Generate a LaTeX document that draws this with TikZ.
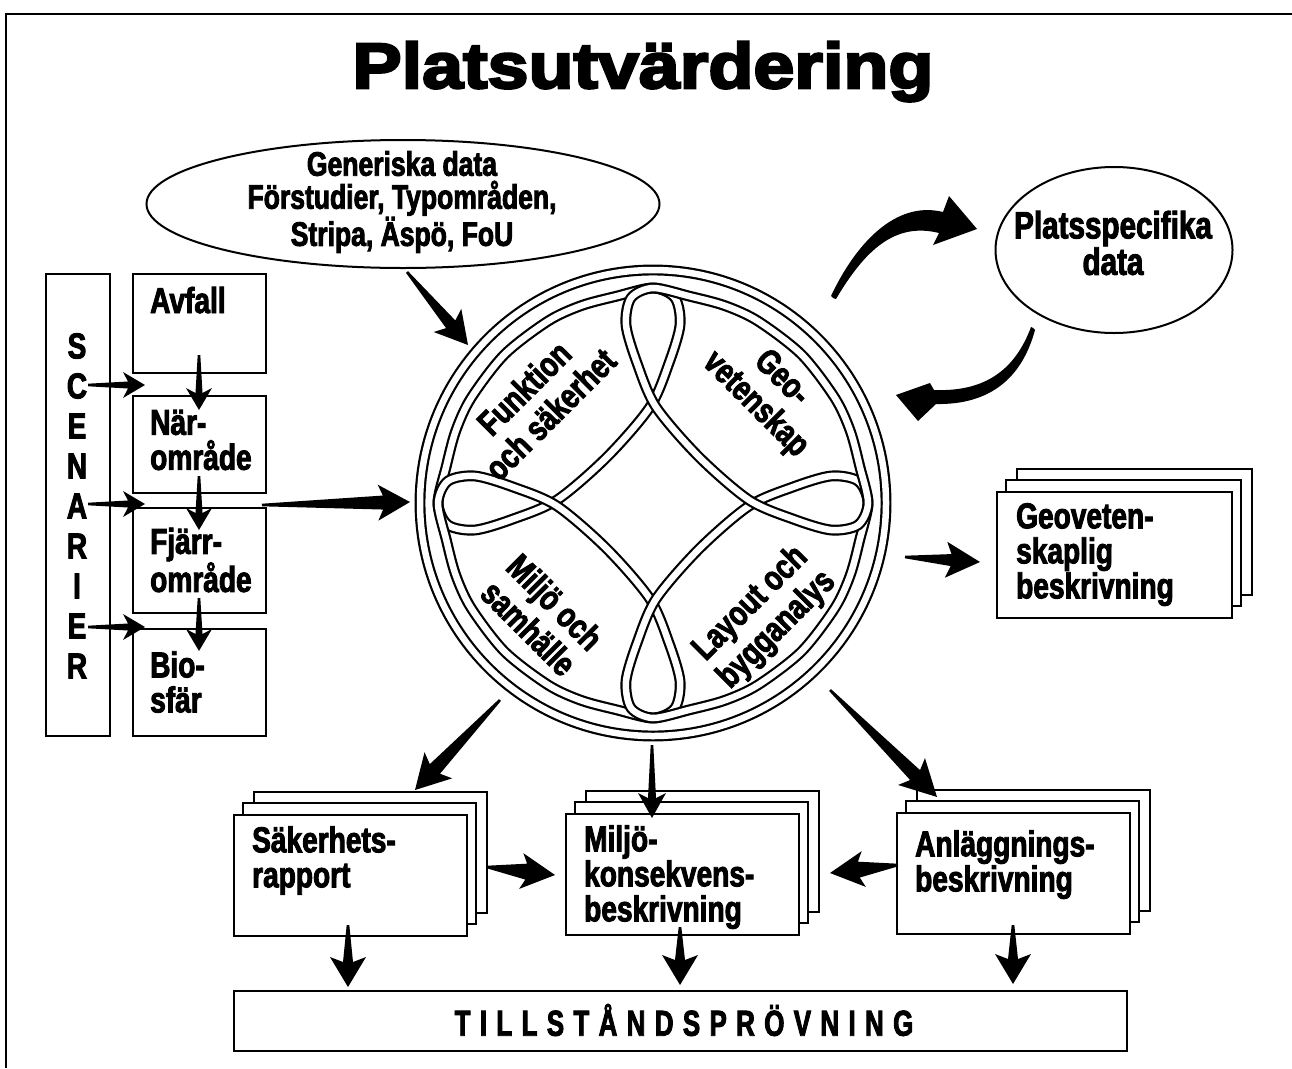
\documentclass[tikz,border=0pt]{standalone}
\usepackage{fontspec}
\usetikzlibrary{calc,shapes.geometric}
\newfontfamily\bodyfont[FakeStretch=0.78,FakeBold=2.5]{Liberation Sans Bold}
\newfontfamily\headfont[FakeStretch=1.15,FakeBold=4]{Liberation Sans Bold}
\newfontfamily\widefont[FakeStretch=0.72,FakeBold=2.5,LetterSpace=26]{Liberation Sans Bold}

\tikzset{
  frameline/.style={line width=2pt},
  box/.style={draw, fill=white, line width=2.4pt, rectangle, inner sep=0pt, anchor=north west},
  sheet/.style={draw, fill=white, line width=2.4pt},
  band/.style={draw, line width=2.2pt, double=white, double distance=6.5pt},
  oval/.style={draw, ellipse, line width=2pt, inner sep=0pt},
  txt/.style={font=\bodyfont\fontsize{36}{35}\selectfont, inner sep=0pt, align=left},
  ctxt/.style={font=\bodyfont\fontsize{35}{37}\selectfont, inner sep=0pt, align=center},
}

% tapered filled arrow: tail, tip, head length, head half width, body half width
\newcommand{\fatarrow}[5]{%
  \path ($(#2)!#3!(#1)$) coordinate (ab) ($(#2)!#3-5pt!(#1)$) coordinate (aj);
  \fill ($(#1)!1.3pt!90:(#2)$) -- ($(aj)!#5!90:(#2)$) -- ($(ab)!#4!90:(#2)$) -- (#2)
    -- ($(ab)!#4!-90:(#2)$) -- ($(aj)!#5!-90:(#2)$) -- ($(#1)!1.3pt!-90:(#2)$) -- cycle;}

% stack of three sheets; the front one is a named node
\newcommand{\docstack}[5]{%
  \draw[sheet] (#2+21,#3-22) rectangle ++(#4,#5);
  \draw[sheet] (#2+10,#3-11) rectangle ++(#4,#5);
  \node[box, minimum width=#4, minimum height=#5] (#1) at (#2,#3) {};}

\begin{document}
\begin{tikzpicture}[x=1pt,y=-1pt]
\useasboundingbox (0,0) rectangle (1292,1068);

% frame
\draw[frameline] (6,1068) -- (6,14) -- (1292,14);

% title
\node[font=\headfont\fontsize{64}{64}\selectfont, anchor=base, inner sep=0pt] (title) at (643,88) {Platsutvärdering};

% generic data
\node[oval, minimum width=513, minimum height=128] (gen) at (403,204) {};
\node[font=\bodyfont\fontsize{34}{33}\selectfont, align=center, inner sep=0pt] (genT) at (402,202)
  {Generiska data\\Förstudier, Typområden,\\Stripa, Äspö, FoU};

% site specific data
\node[oval, minimum width=237, minimum height=166] (plats) at (1114,250) {};
\node[ctxt, font=\bodyfont\fontsize{38}{35}\selectfont] (platsT) at (1113,243) {Platsspecifika\\data};

% scenario column
\node[box, minimum width=64, minimum height=462] (scen) at (45,273) {};
\foreach \ch [count=\i] in {S,C,E,N,A,R,I,E,R}
  \node[font=\bodyfont\fontsize{36}{36}\selectfont, inner sep=0pt] (sc\i) at (77,306+40*\i) {\ch};

\node[box, minimum width=133, minimum height=99] (avfall) at (132,273) {};
\node[box, minimum width=133, minimum height=97] (nar) at (132,395) {};
\node[box, minimum width=133, minimum height=105] (fjarr) at (132,507) {};
\node[box, minimum width=133, minimum height=107] (bio) at (132,628) {};
\node[txt, anchor=base west] (avfallT) at (150,313) {Avfall};
\node[txt, anchor=west] (narT) at (150,440) {När-\\område};
\node[txt, anchor=west] (fjarrT) at (150,560) {Fjärr-\\område};
\node[txt, anchor=west] (bioT) at (150,682) {Bio-\\sfär};

% central ring with four interlaced loops
\node[circle, minimum size=476, inner sep=0pt] (ring) at (653,503) {};
\begin{scope}[shift={(653,503)}, y=1pt]
  \draw[band] (0,0) circle (233);
  \foreach \a in {0,90,180,270}
    \draw[band, rotate=\a] plot[smooth cycle] coordinates {(0,215) (-36.5,206.8) (-72,197.3) (-105,181.9) (-148.5,148.5) (-181.9,105) (-197.3,72) (-206.8,36.5) (-215,0) (-205,-22) (-178,-27) (-140,-16) (-96,3) (-46,46) (-3,96) (16,140) (27,178) (22,205)};
\end{scope}
\node[ctxt, rotate=45] (funk) at (537,401) {Funktion\\och säkerhet};
\node[ctxt, rotate=-45] (geo) at (768,392) {Geo-\\vetenskap};
\node[ctxt, rotate=-45] (milj) at (542,615) {Miljö och\\samhälle};
\node[ctxt, rotate=45] (layout) at (764,617) {Layout och\\bygganalys};

% documents
\docstack{geodoc}{996}{491}{235}{126}
\node[txt, anchor=north west] (geodocT) at (1016,503) {Geoveten-\\skaplig\\beskrivning};
\docstack{sak}{233}{814}{233}{121}
\node[txt, anchor=north west] (sakT) at (252,826) {Säkerhets-\\rapport};
\docstack{mkb}{565}{813}{233}{121}
\node[txt, anchor=north west] (mkbT) at (584,825) {Miljö-\\konsekvens-\\beskrivning};
\docstack{anl}{896}{812}{233}{121}
\node[txt, anchor=north west] (anlT) at (915,830) {Anläggnings-\\beskrivning};

% permit review
\node[box, minimum width=893, minimum height=60] (tillst) at (233,990) {};
\node[font=\widefont\fontsize{36}{36}\selectfont, inner sep=0pt] (tillstT) at (684,1020) {TILLSTÅNDSPRÖVNING};

% arrow end points
\coordinate (s1a) at (88,385);  \coordinate (s1b) at (145,385);
\coordinate (s2a) at (88,504);  \coordinate (s2b) at (145,504);
\coordinate (s3a) at (88,627);  \coordinate (s3b) at (145,627);
\coordinate (v1a) at (199,355); \coordinate (v1b) at (199,410);
\coordinate (v2a) at (199,476); \coordinate (v2b) at (199,530);
\coordinate (v3a) at (199,598); \coordinate (v3b) at (199,651);
\coordinate (inA) at (262,505); \coordinate (inB) at (410,502);
\coordinate (genA) at (407,272); \coordinate (genB) at (468,345);
\coordinate (sakA) at (500,700); \coordinate (sakB) at (415,790);
\coordinate (milA) at (652,745); \coordinate (milB) at (652,818);
\coordinate (anlA) at (830,690); \coordinate (anlB) at (937,797);
\coordinate (geoA) at (905,557); \coordinate (geoB) at (980,562);
\coordinate (smA) at (487,867); \coordinate (smB) at (555,875);
\coordinate (amA) at (898,865); \coordinate (amB) at (830,873);
\coordinate (d1a) at (348,925); \coordinate (d1b) at (348,987);
\coordinate (d2a) at (680,927); \coordinate (d2b) at (680,985);
\coordinate (d3a) at (1013,925); \coordinate (d3b) at (1013,984);

\fatarrow{s1a}{s1b}{22pt}{13pt}{3.5pt}
\fatarrow{s2a}{s2b}{22pt}{13pt}{3.5pt}
\fatarrow{s3a}{s3b}{22pt}{13pt}{3.5pt}
\fatarrow{v1a}{v1b}{22pt}{13pt}{3.5pt}
\fatarrow{v2a}{v2b}{22pt}{13pt}{3.5pt}
\fatarrow{v3a}{v3b}{22pt}{13pt}{3.5pt}
\fatarrow{inA}{inB}{32pt}{18pt}{7pt}
\fatarrow{genA}{genB}{32pt}{18pt}{6pt}
\fatarrow{sakA}{sakB}{34pt}{19pt}{7pt}
\fatarrow{milA}{milB}{25pt}{14pt}{4pt}
\fatarrow{anlA}{anlB}{36pt}{19pt}{7pt}
\fatarrow{geoA}{geoB}{34pt}{18pt}{6pt}
\fatarrow{smA}{smB}{34pt}{18pt}{8pt}
\fatarrow{amA}{amB}{34pt}{18pt}{8pt}
\fatarrow{d1a}{d1b}{30pt}{18pt}{5pt}
\fatarrow{d2a}{d2b}{30pt}{18pt}{5pt}
\fatarrow{d3a}{d3b}{30pt}{18pt}{5pt}

% exchange with the site specific data
\coordinate (upTail) at (833,298);
\coordinate (upTip) at (977,229);
\fill (upTail) -- (831,296) .. controls (855,245) and (895,200) .. (943,212)
  -- (949,196) -- (upTip) -- (933,245) -- (939,233)
  .. controls (895,222) and (865,250) .. (836,299) -- cycle;
\coordinate (dnTail) at (1033,328);
\coordinate (dnTip) at (896,395);
\fill (dnTail) -- (1035,330) .. controls (1022,378) and (990,405) .. (936,404)
  -- (918,421) -- (dnTip) -- (930,383) -- (934,390)
  .. controls (985,392) and (1015,370) .. (1031,327) -- cycle;
\end{tikzpicture}
\end{document}
